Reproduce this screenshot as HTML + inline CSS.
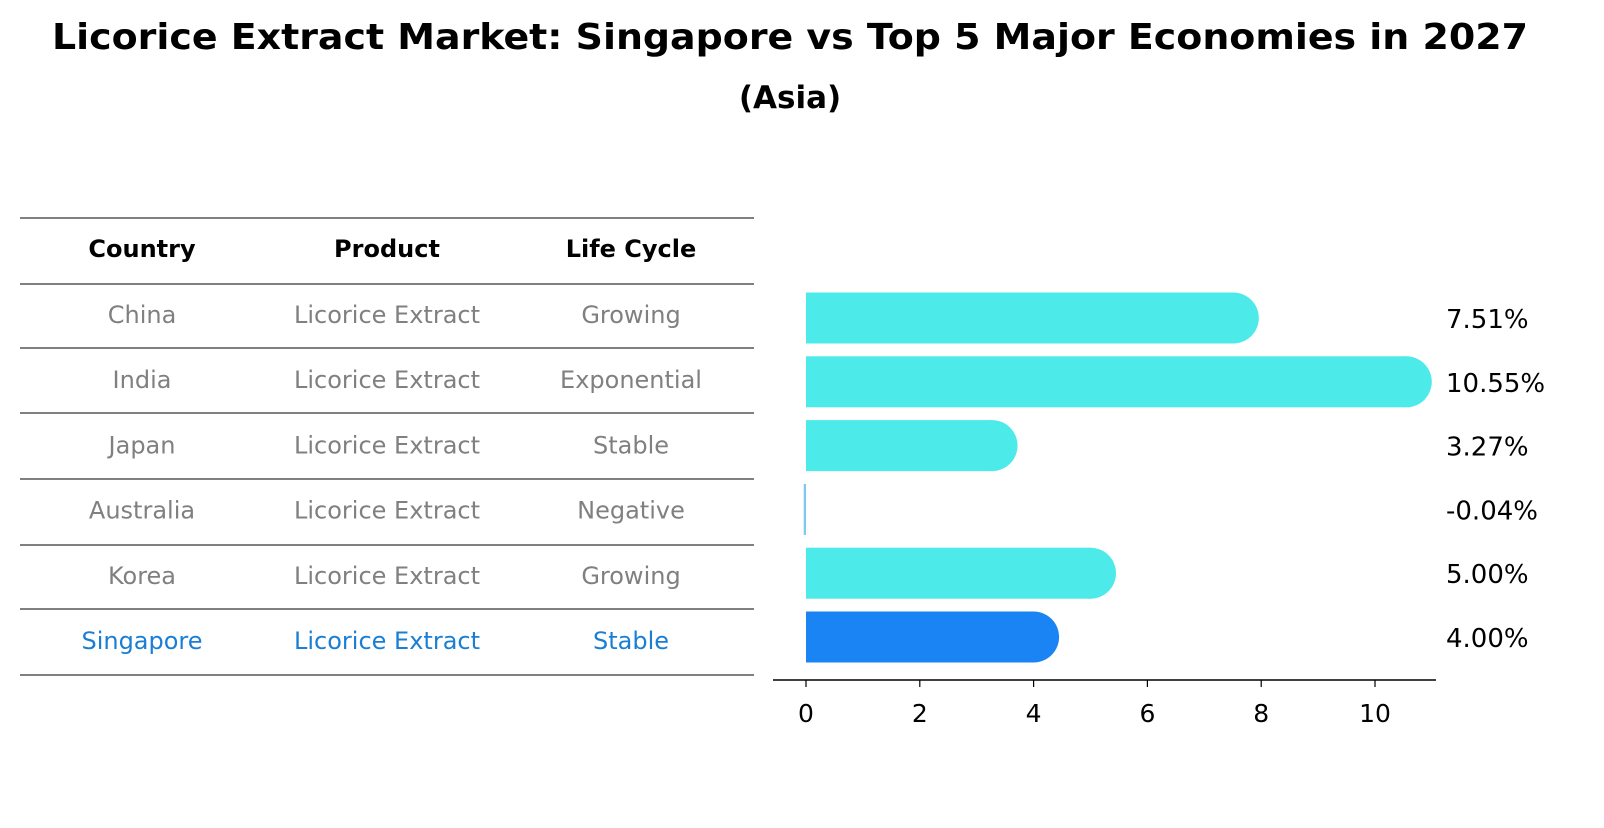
<!DOCTYPE html>
<html><head><meta charset="utf-8"><style>
body{margin:0;background:#fff;font-family:"Liberation Sans","DejaVu Sans",sans-serif}
svg text{font-family:"DejaVu Sans","Liberation Sans",sans-serif}
</style></head><body>
<svg id="c" width="1604" height="823" viewBox="0 0 1604 823" xmlns="http://www.w3.org/2000/svg">
<text x="790" y="49" text-anchor="middle" font-size="36" font-weight="bold" textLength="1476" lengthAdjust="spacingAndGlyphs">Licorice Extract Market: Singapore vs Top 5 Major Economies in 2027</text>
<text x="790" y="108" text-anchor="middle" font-size="31" font-weight="bold">(Asia)</text>
<g id="table"></g>
<g id="bars"></g>
</svg>
<script>
const countries=["China","India","Japan","Australia","Korea","Singapore"];
const products=["Licorice Extract","Licorice Extract","Licorice Extract","Licorice Extract","Licorice Extract","Licorice Extract"];
const lifeCycles=["Growing","Exponential","Stable","Negative","Growing","Stable"];
const growth=[7.51,10.55,3.27,-0.04,5.00,4.00];
const labels=["7.51%","10.55%","3.27%","-0.04%","5.00%","4.00%"];
const ticks=[0,2,4,6,8,10];
const NS="http://www.w3.org/2000/svg";
function mk(p,t,a){const e=document.createElementNS(NS,t);for(const k in a)e.setAttribute(k,a[k]);p.appendChild(e);return e;}
const tb=document.getElementById('table');
const lineYs=[218,284,348,413,479,545,609,675];
lineYs.forEach((y,i)=>{const l=mk(tb,'line',{x1:20,x2:754,y1:y,y2:y,stroke:'#000','stroke-width':1});

});
const colX=[142,387,631];
["Country","Product","Life Cycle"].forEach((h,i)=>{const t=mk(tb,'text',{x:colX[i],y:257,'text-anchor':'middle','font-size':24,'font-weight':'bold'});t.textContent=h;

});
countries.forEach((c,r)=>{const y=323+r*65.2;const col=c==="Singapore"?"#1a7fd4":"#808080";
[c,products[r],lifeCycles[r]].forEach((v,i)=>{const t=mk(tb,'text',{x:colX[i],y:y,'text-anchor':'middle','font-size':24,fill:col});t.textContent=v;

});});
const bg=document.getElementById('bars');
const x0=806,ppu=56.9;const X=v=>x0+v*ppu;
const yc=i=>318+i*63.8;const bh=51;
mk(bg,'line',{x1:773,x2:1436,y1:680,y2:680,stroke:'#000','stroke-width':1.5});
ticks.forEach(t=>{const l=mk(bg,'line',{x1:X(t),x2:X(t),y1:680,y2:687,stroke:'#000','stroke-width':1.2});


const tx=mk(bg,'text',{x:X(t),y:722,'text-anchor':'middle','font-size':25});tx.textContent=t;

});
growth.forEach((v,i)=>{const col=countries[i]==="Singapore"?"#1a84f5":"#4deaea";const y=yc(i);
if(v>0){const g=mk(bg,'g',{});


mk(g,'rect',{x:x0,y:y-bh/2,width:X(v)-x0,height:bh,fill:col});
mk(g,'circle',{cx:X(v),cy:y,r:bh/2,fill:col});}
else{const r=mk(bg,'rect',{x:X(v),y:y-bh/2,width:Math.max(1.5,x0-X(v)),height:bh,fill:'#7fc8f0'});

}
const t=mk(bg,'text',{x:1446,y:y+10,'font-size':26});t.textContent=labels[i];

});
</script>
</body></html>
